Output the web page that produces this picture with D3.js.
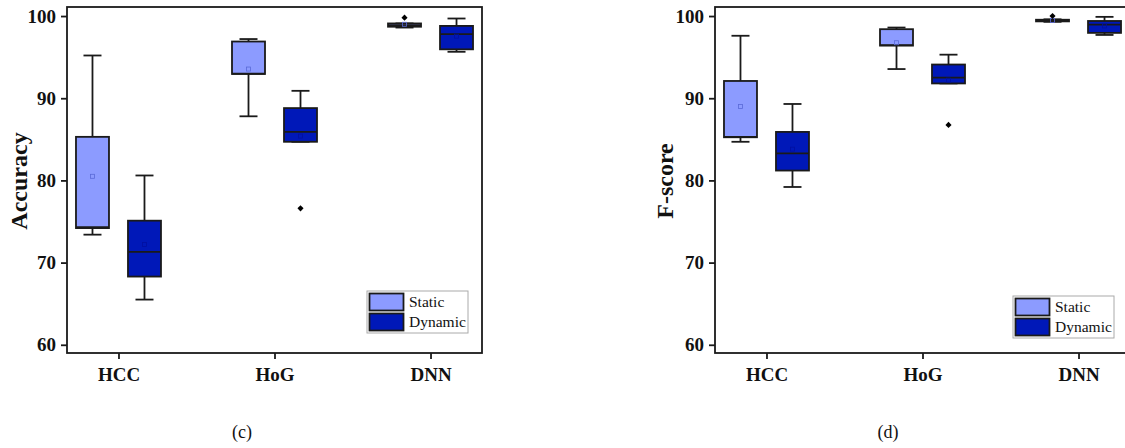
<!DOCTYPE html>
<html>
<head>
<meta charset="utf-8">
<script src="https://cdn.jsdelivr.net/npm/d3@7.9.0/dist/d3.min.js"></script>
<style>
  body { margin: 0; background: #fff; }
  svg { display: block; font-family: "Liberation Serif", "Times New Roman", serif; }
</style>
</head>
<body>
<svg id="chart" width="1125" height="448"></svg>
<script>
const categories = ['HCC', 'HoG', 'DNN'];
const seriesNames = ['Static', 'Dynamic'];
const yTicks = [60, 70, 80, 90, 100];

// each row: [whisker low, q1, median, q3, whisker high, mean]
const accStatic = [
  [73.4, 74.2, 74.3, 85.3, 95.2, 80.5],
  [87.8, 92.95, 93.0, 96.9, 97.2, 93.55],
  [98.6, 98.7, 98.9, 99.1, 99.1, 99.0]
];
const accDynamic = [
  [65.5, 68.3, 71.3, 75.1, 80.6, 72.2],
  [84.7, 84.7, 85.9, 88.8, 90.9, 85.4],
  [95.65, 95.95, 97.8, 98.8, 99.7, 97.55]
];
const accStaticOut = [[], [], [99.8]];
const accDynamicOut = [[], [76.6], []];

const fStatic = [
  [84.7, 85.25, 85.3, 92.1, 97.6, 89.0],
  [93.55, 96.4, 96.45, 98.4, 98.6, 96.75],
  [99.3, 99.35, 99.45, 99.55, 99.6, 99.45]
];
const fDynamic = [
  [79.2, 81.2, 83.3, 85.9, 89.3, 83.8],
  [91.8, 91.8, 92.5, 94.1, 95.3, 92.2],
  [97.7, 97.95, 98.95, 99.4, 99.9, 98.8]
];
const fStaticOut = [[], [], [100.0]];
const fDynamicOut = [[], [86.75], []];

const fills = { Static: '#8c9bff', Dynamic: '#0018b8' };
const meanStroke = { Static: '#5a6ad8', Dynamic: '#0010a0' };
const ink = '#1a1a1a';

const svg = d3.select('#chart');

function drawPanel(opt) {
  const w = 415, h = 346;
  const g = svg.append('g').attr('transform', `translate(${opt.left},7)`);

  const x = d3.scalePoint().domain(categories).range([0, w]).padding(0.33);
  const xs = d3.scalePoint().domain(seriesNames).range([-26, 26]);
  const y = d3.scaleLinear().domain([59, 101.1]).range([h, 0]);
  const boxW = 33, capW = 18;

  // frame
  g.append('rect').attr('width', w).attr('height', h)
    .attr('fill', 'none').attr('stroke', ink).attr('stroke-width', 1.8);

  const yAxis = g.append('g').call(d3.axisLeft(y).tickValues(yTicks).tickSize(6).tickPadding(5));
  yAxis.select('.domain').remove();
  yAxis.selectAll('line').attr('stroke', ink).attr('stroke-width', 1.8);
  yAxis.selectAll('text').attr('font-size', 19).attr('font-weight', 'bold')
    .attr('fill', '#111').attr('font-family', '"Liberation Serif", serif');

  const xAxis = g.append('g').attr('transform', `translate(0,${h})`)
    .call(d3.axisBottom(x).tickSize(6).tickPadding(5));
  xAxis.select('.domain').remove();
  xAxis.selectAll('line').attr('stroke', ink).attr('stroke-width', 1.8);
  xAxis.selectAll('text').attr('font-size', 19).attr('font-weight', 'bold')
    .attr('fill', '#111').attr('font-family', '"Liberation Serif", serif')
    .attr('y', 28).attr('dy', 0);

  const sets = [
    { name: 'Static', stats: opt.s, outs: opt.so },
    { name: 'Dynamic', stats: opt.d, outs: opt.do }
  ];

  sets.forEach(set => {
    set.stats.forEach((st, i) => {
      const cx = x(categories[i]) + xs(set.name);
      const [lo, q1, med, q3, hi, mean] = st;
      const bg = g.append('g');
      bg.append('line').attr('x1', cx).attr('x2', cx).attr('y1', y(hi)).attr('y2', y(q3))
        .attr('stroke', ink).attr('stroke-width', 1.8);
      bg.append('line').attr('x1', cx).attr('x2', cx).attr('y1', y(q1)).attr('y2', y(lo))
        .attr('stroke', ink).attr('stroke-width', 1.8);
      [hi, lo].forEach(v => {
        bg.append('line').attr('x1', cx - capW / 2).attr('x2', cx + capW / 2)
          .attr('y1', y(v)).attr('y2', y(v)).attr('stroke', ink).attr('stroke-width', 1.8);
      });
      bg.append('rect').attr('x', cx - boxW / 2).attr('y', y(q3))
        .attr('width', boxW).attr('height', y(q1) - y(q3))
        .attr('fill', fills[set.name]).attr('stroke', ink).attr('stroke-width', 1.8);
      bg.append('line').attr('x1', cx - boxW / 2).attr('x2', cx + boxW / 2)
        .attr('y1', y(med)).attr('y2', y(med)).attr('stroke', ink).attr('stroke-width', 1.8);
      bg.append('rect').attr('x', cx - 2).attr('y', y(mean) - 2).attr('width', 4).attr('height', 4)
        .attr('fill', 'none').attr('stroke', meanStroke[set.name]).attr('stroke-width', 0.8);
      set.outs[i].forEach(v => {
        bg.append('path').attr('d', d3.symbol(d3.symbolDiamond2, 24)())
          .attr('transform', `translate(${cx},${y(v)})`).attr('fill', '#000');
      });
    });
  });

  // legend
  const lg = g.append('g').attr('transform', `translate(${opt.legX},${opt.legY})`);
  lg.append('rect').attr('width', 101).attr('height', 42)
    .attr('fill', '#fff').attr('stroke', '#aaa').attr('stroke-width', 1);
  seriesNames.forEach((n, i) => {
    lg.append('rect').attr('x', 2.5).attr('y', 2.5 + i * 20).attr('width', 34).attr('height', 17)
      .attr('fill', fills[n]).attr('stroke', ink).attr('stroke-width', 1.8);
    lg.append('text').attr('x', 42).attr('y', 16 + i * 20).text(n)
      .attr('font-size', 15.5).attr('fill', '#111');
  });

  // y title
  svg.append('text')
    .attr('transform', `translate(${opt.titleX},181) rotate(-90)`)
    .attr('text-anchor', 'middle').attr('font-size', 24).attr('font-weight', 'bold')
    .attr('fill', '#111').text(opt.title);

  svg.append('text').attr('x', opt.capX).attr('y', 438).attr('text-anchor', 'middle')
    .attr('font-size', 18).attr('fill', '#111').text(opt.caption);
}

drawPanel({ left: 67, s: accStatic, d: accDynamic, so: accStaticOut, do: accDynamicOut,
  legX: 300, legY: 284, title: 'Accuracy', titleX: 27, capX: 242, caption: '(c)' });
drawPanel({ left: 715, s: fStatic, d: fDynamic, so: fStaticOut, do: fDynamicOut,
  legX: 298, legY: 289, title: 'F-score', titleX: 673, capX: 888, caption: '(d)' });
</script>
</body>
</html>
